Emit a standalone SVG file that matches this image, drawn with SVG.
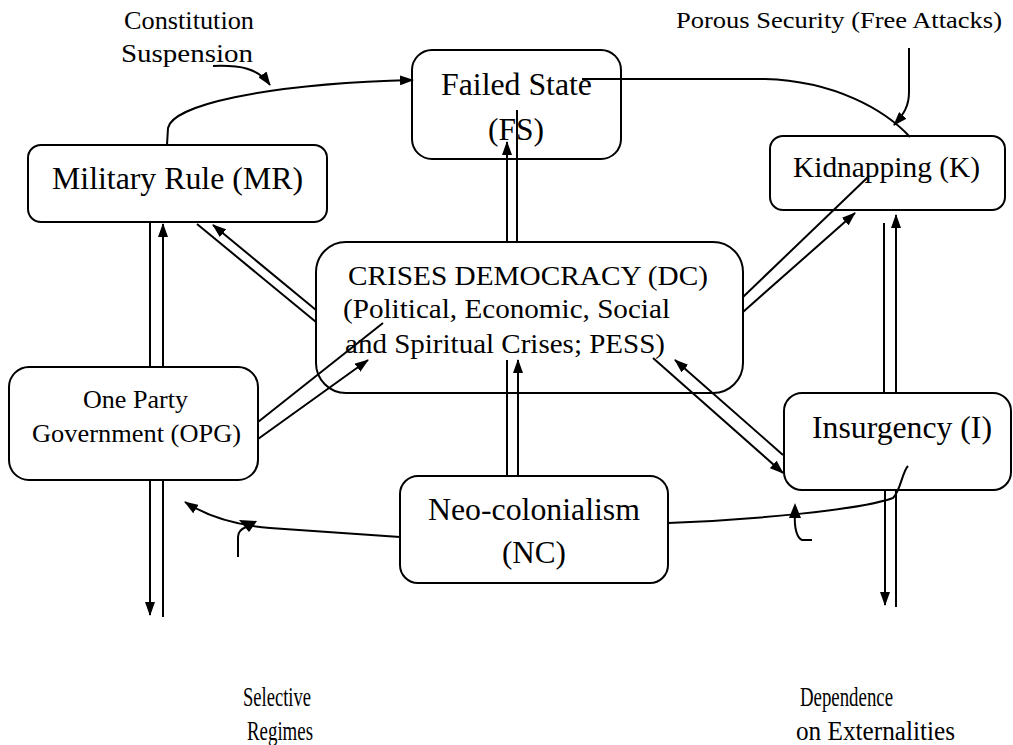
<svg xmlns="http://www.w3.org/2000/svg" width="1013" height="745" viewBox="0 0 1013 745">
<defs>
<marker id="ah" markerUnits="userSpaceOnUse" viewBox="0 0 14 10" refX="13" refY="5" markerWidth="14" markerHeight="10" orient="auto">
<path d="M0,0 L14,5 L0,10 z" fill="#000"/>
</marker>
</defs>
<style>
.box{fill:#fff;stroke:#000;stroke-width:2}
.t{font-family:'Liberation Serif','Times New Roman',Times,serif;fill:#000}
.c{fill:none;stroke:#000;stroke-width:2}
.a{fill:none;stroke:#000;stroke-width:2;marker-end:url(#ah)}
</style>
<rect width="1013" height="745" fill="#fff"/>

<g id="node-fs">
<rect class="box" x="412" y="50" width="209" height="109" rx="20"/>
<text class="t" font-family="Liberation Serif, serif" x="441" y="95" font-size="31" textLength="151" lengthAdjust="spacingAndGlyphs">Failed State</text>
<text class="t" font-family="Liberation Serif, serif" x="488" y="140" font-size="31" textLength="56" lengthAdjust="spacingAndGlyphs">(FS)</text>
</g>
<g id="node-mr">
<rect class="box" x="28" y="145" width="299" height="77" rx="13"/>
<text class="t" font-family="Liberation Serif, serif" x="52" y="189" font-size="32" textLength="251" lengthAdjust="spacingAndGlyphs">Military Rule (MR)</text>
</g>
<g id="node-k">
<rect class="box" x="770" y="136" width="235" height="74" rx="13"/>
<text class="t" font-family="Liberation Serif, serif" x="793" y="177" font-size="29" textLength="187" lengthAdjust="spacingAndGlyphs">Kidnapping (K)</text>
</g>
<g id="node-dc">
<rect class="box" x="316" y="242" width="427" height="151" rx="30"/>
<text class="t" font-family="Liberation Serif, serif" x="348" y="285" font-size="27" textLength="360" lengthAdjust="spacingAndGlyphs">CRISES DEMOCRACY (DC)</text>
<text class="t" font-family="Liberation Serif, serif" x="343" y="318" font-size="28" textLength="327" lengthAdjust="spacingAndGlyphs">(Political, Economic, Social</text>
<text class="t" font-family="Liberation Serif, serif" x="345" y="353" font-size="28" textLength="320" lengthAdjust="spacingAndGlyphs">and Spiritual Crises; PESS)</text>
</g>
<g id="node-opg">
<rect class="box" x="9" y="367" width="249" height="113" rx="20"/>
<text class="t" font-family="Liberation Serif, serif" x="83" y="408" font-size="26" textLength="105" lengthAdjust="spacingAndGlyphs">One Party</text>
<text class="t" font-family="Liberation Serif, serif" x="32" y="442" font-size="26" textLength="209" lengthAdjust="spacingAndGlyphs">Government (OPG)</text>
</g>
<g id="node-i">
<rect class="box" x="784" y="393" width="227" height="97" rx="18"/>
<text class="t" font-family="Liberation Serif, serif" x="812" y="438" font-size="31" textLength="180" lengthAdjust="spacingAndGlyphs">Insurgency (I)</text>
</g>
<g id="node-nc">
<rect class="box" x="400" y="476" width="268" height="107" rx="18"/>
<text class="t" font-family="Liberation Serif, serif" x="428" y="520" font-size="31" textLength="212" lengthAdjust="spacingAndGlyphs">Neo-colonialism</text>
<text class="t" font-family="Liberation Serif, serif" x="502" y="563" font-size="31" textLength="64" lengthAdjust="spacingAndGlyphs">(NC)</text>
</g>

<g id="labels">
<text class="t" font-family="Liberation Serif, serif" x="124" y="29" font-size="25" textLength="130" lengthAdjust="spacingAndGlyphs">Constitution</text>
<text class="t" font-family="Liberation Serif, serif" x="121" y="62" font-size="25" textLength="132" lengthAdjust="spacingAndGlyphs">Suspension</text>
<text class="t" font-family="Liberation Serif, serif" x="676" y="28" font-size="24" textLength="326" lengthAdjust="spacingAndGlyphs">Porous Security (Free Attacks)</text>
<text class="t" font-family="Liberation Serif, serif" x="243" y="706" font-size="27" textLength="68" lengthAdjust="spacingAndGlyphs">Selective</text>
<text class="t" font-family="Liberation Serif, serif" x="247" y="740" font-size="27" textLength="66" lengthAdjust="spacingAndGlyphs">Regimes</text>
<text class="t" font-family="Liberation Serif, serif" x="800" y="706" font-size="27" textLength="93" lengthAdjust="spacingAndGlyphs">Dependence</text>
<text class="t" font-family="Liberation Serif, serif" x="796" y="740" font-size="27" textLength="159" lengthAdjust="spacingAndGlyphs">on Externalities</text>
</g>

<g id="connectors">
<path class="a" d="M167,145 L168,128 C172,106 260,84 413,80"/>
<path class="a" d="M213,66 C240,65 258,68 270,85"/>
<path class="c" d="M582,79 L765,79 C835,81 885,110 910,137"/>
<path class="a" d="M909,48 L909,92 C909,106 904,114 894,125"/>
<path class="a" d="M507,242 L507,142"/>
<path class="c" d="M517,242 L517,110"/>
<path class="c" d="M150,367 L150,223"/>
<path class="a" d="M163,367 L163,224"/>
<path class="c" d="M316,322 L197,224"/>
<path class="a" d="M316,310 L213,225"/>
<path class="c" d="M258,422 L383,323"/>
<path class="a" d="M258,439 L368,360"/>
<path class="c" d="M743,297 L868,177"/>
<path class="a" d="M743,312 L855,213"/>
<path class="c" d="M884,393 L884,223"/>
<path class="a" d="M896,393 L896,215"/>
<path class="a" d="M653,358 L783,473"/>
<path class="a" d="M783,455 L675,360"/>
<path class="c" d="M507,476 L507,360"/>
<path class="a" d="M518,476 L518,360"/>
<path class="a" d="M400,537 L270,528 C235,525 205,515 185,502"/>
<path class="c" d="M238,557 L238,537 C238,532 241,529 246,527"/>
<path d="M239,520 L257,521 L249,532 z" fill="#000"/>
<path class="c" d="M668,523 C750,520 860,510 893,498 C901,490 902,472 908,466"/>
<path class="c" d="M812,540 L802,540 C797,538 794,528 795,514"/>
<path d="M789,518 L795,503 L801,518 z" fill="#000"/>
<path class="a" d="M150,480 L150,615"/>
<path class="c" d="M163,480 L163,617"/>
<path class="a" d="M885,490 L885,605"/>
<path class="c" d="M896,490 L896,607"/>
</g>
</svg>
